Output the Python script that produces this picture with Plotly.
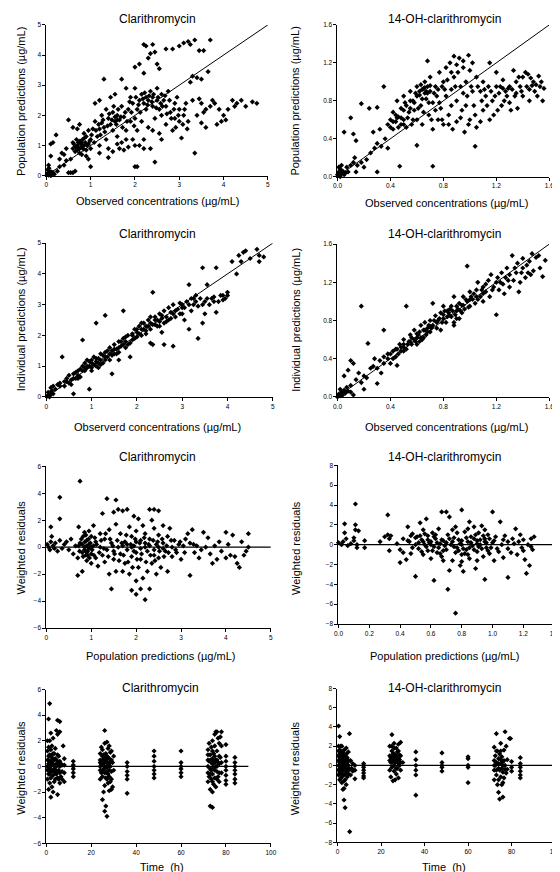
import plotly.graph_objects as go

# ---------------- DATA ----------------
# Panel 1: Clarithromycin, observed vs population predictions (ug/mL)
clar_obs_pred = [
(0.02,0.05),(0.04,0.1),(0.05,0.02),(0.07,0.15),(0.08,0.08),(0.1,0.05),(0.12,0.12),(0.03,0.2),(0.06,0.25),(0.15,0.1),(0.1,0.0),(0.18,0.05),(0.05,0.35),
(0.1,0.65),(0.1,1.05),(0.15,1.1),(0.22,1.35),(0.3,0.55),(0.35,0.75),(0.4,0.35),(0.45,0.9),(0.5,1.85),(0.55,0.55),(0.5,0.1),(0.55,0.1),(0.6,0.1),(0.65,0.15),(0.6,1.1),(0.65,0.8),(0.7,1.55),(0.75,1.7),(0.6,1.6),
(0.65,0.95),(0.7,1.0),(0.72,1.1),(0.75,0.9),(0.78,1.05),(0.8,0.95),(0.68,1.2),(0.82,1.2),(0.85,1.0),(0.9,0.85),(0.88,1.1),(0.75,0.75),(0.8,0.7),(0.9,1.3),(0.95,1.5),(0.7,0.85),(0.95,1.05),(1.0,0.9),(1.0,1.2),(0.85,1.4),(0.9,0.65),(1.0,0.3),(0.95,0.55),
(1.05,1.55),(1.1,1.8),(1.1,2.4),(1.15,1.3),(1.2,1.0),(1.2,2.5),(1.25,2.0),(1.3,1.6),(1.3,3.2),(1.35,1.2),(1.35,2.2),(1.4,0.9),(1.4,1.9),(1.45,2.6),(1.5,1.5),(1.5,2.1),(1.5,0.8),(1.55,1.8),(1.55,2.7),(1.6,1.3),(1.6,2.0),(1.65,0.9),(1.65,1.85),(1.7,2.3),(1.7,3.2),(1.7,1.1),(1.75,1.95),(1.75,0.85),(1.8,2.9),(1.8,1.5),(1.85,2.2),(1.85,0.95),(1.9,1.8),(1.9,2.6),(1.95,1.2),(1.95,2.4),(2.0,0.3),(2.05,0.3),(2.0,2.9),(2.0,1.9),(2.05,2.2),(2.05,1.5),(2.1,2.5),(2.1,1.0),
(1.55,1.95),(1.6,1.85),(1.45,1.7),(1.2,1.55),(1.25,1.75),
(2.15,2.7),(2.15,1.8),(2.2,2.4),(2.2,0.9),(2.25,2.6),(2.25,2.2),(2.3,2.5),(2.3,1.6),(2.35,2.8),(2.35,0.9),(2.4,2.3),(2.4,2.6),(2.45,1.9),(2.45,0.45),(2.5,2.5),(2.5,2.9),(2.55,2.2),(2.55,1.4),(2.6,2.7),(2.6,2.0),(2.65,2.5),(2.7,1.7),(2.7,2.3),(2.75,2.8),(2.8,2.1),(2.85,1.5),(2.9,2.4),(2.9,1.9),(2.95,2.6),(3.0,1.8),(3.0,2.2),(3.05,1.25),(3.1,2.0),(3.15,2.4),(3.2,1.8),(3.25,3.1),(3.3,3.3),
(2.0,3.6),(2.1,3.7),(2.2,4.35),(2.25,4.3),(2.2,3.4),(2.3,3.9),(2.35,4.05),(2.4,4.35),(2.45,4.1),(2.5,3.7),(2.55,3.55),(2.7,4.2),(2.85,4.2),(3.0,4.3),(3.1,4.4),(3.2,4.45),(3.35,4.5),(3.7,4.5),(3.25,4.35),(3.45,4.15),(3.55,4.15),(3.4,3.25),(3.5,3.2),(3.65,3.45),
(3.45,2.55),(3.5,2.4),(3.6,2.2),(3.7,2.3),(3.8,2.4),(3.75,2.5),(3.4,2.0),(3.5,1.75),(3.6,1.6),(3.9,2.2),(4.0,2.0),(4.05,1.85),(4.2,2.5),(4.3,2.4),(4.25,2.3),(4.4,2.5),(4.5,2.3),(4.65,2.45),(4.75,2.4),(4.1,2.2),(3.85,1.7),(3.95,1.8),(3.35,0.75),(3.55,2.1),(3.3,2.5),
(0.6,0.9),(0.62,1.05),(0.72,0.92),(0.76,1.15),(0.8,1.1),(0.84,0.88),(0.86,1.25),(0.92,1.0),(0.98,1.15),(1.02,1.35),(1.08,1.1),(1.12,1.5),(1.18,1.7),(1.22,1.35),(1.28,1.85),(1.32,1.45),(1.38,1.65),(1.42,2.05),(1.48,1.85),(1.52,2.3),(1.58,1.7),(1.62,2.2),(1.68,1.95),(1.72,1.6),(1.78,2.1),(1.82,1.8),(1.88,2.45),(1.92,2.1),(1.98,1.65),(2.02,2.6),(2.08,2.35),(2.12,2.1),(2.18,2.55),(2.22,2.75),(2.28,2.35),(2.32,2.65),(2.38,2.45),(2.42,2.7),(2.48,2.25),(2.52,2.6),(2.58,2.4),(2.62,2.3),(2.68,2.65),(2.72,2.05),(2.78,2.5),(2.82,1.9),(2.88,2.2),(2.92,1.6),(2.98,2.0),(3.08,1.7),(3.12,2.2),(3.18,1.55),(2.2,1.2),(2.4,1.5),(2.6,1.2),(1.4,0.6),(1.2,0.75),(1.6,1.05),(1.8,1.2),(2.0,1.0),(0.45,0.5),(0.3,0.3),(0.25,0.15),(0.4,0.7),
]

# Panel 2: 14-OH-clarithromycin, observed vs population predictions
oh_obs_pred = [
(0.0,0.02),(0.01,0.05),(0.02,0.0),(0.02,0.08),(0.03,0.03),(0.04,0.06),(0.05,0.02),(0.01,0.1),(0.06,0.04),(0.03,0.12),(0.08,0.05),(0.07,0.1),
(0.1,0.12),(0.12,0.15),(0.15,0.12),(0.18,0.15),(0.2,0.1),(0.14,0.05),(0.22,0.18),(0.25,0.25),(0.28,0.3),(0.3,0.05),(0.13,0.2),(0.1,0.62),(0.05,0.47),(0.12,0.45),(0.14,0.38),(0.18,0.77),(0.24,0.72),(0.3,0.73),(0.35,0.95),(0.27,0.47),(0.3,0.35),(0.33,0.32),(0.36,0.4),(0.32,0.5),(0.47,0.11),(0.72,0.11),(1.04,0.32),(0.6,0.33),(0.38,0.3),
(0.38,0.55),(0.4,0.6),(0.42,0.5),(0.42,0.68),(0.44,0.58),(0.45,0.8),(0.46,0.63),(0.48,0.55),(0.48,0.72),(0.5,0.85),(0.5,0.6),(0.52,0.52),(0.52,0.75),(0.54,0.68),(0.55,0.9),(0.56,0.55),(0.57,0.8),(0.58,0.7),(0.6,0.95),(0.6,0.6),(0.6,0.85),(0.62,0.9),(0.63,0.75),(0.64,0.55),(0.65,0.93),(0.66,0.88),(0.66,1.0),(0.67,0.82),(0.68,0.95),(0.68,1.22),(0.69,0.65),(0.7,0.9),(0.7,1.05),(0.72,0.78),(0.72,0.5),(0.74,0.95),(0.75,0.85),(0.76,0.6),(0.77,1.1),
(0.62,0.86),(0.64,0.92),(0.66,0.94),(0.68,0.88),(0.58,0.78),(0.55,0.72),(0.5,0.7),(0.45,0.62),
(0.78,0.72),(0.79,0.95),(0.8,1.0),(0.8,0.55),(0.82,0.85),(0.82,1.15),(0.84,0.65),(0.85,1.2),(0.86,0.92),(0.87,0.5),(0.88,1.05),(0.88,1.27),(0.9,0.8),(0.9,0.58),(0.92,1.25),(0.93,0.95),(0.94,0.7),(0.95,1.15),(0.96,0.47),(0.97,1.0),(0.98,0.85),(0.99,1.28),(1.0,0.6),(1.01,0.95),(1.02,1.2),(1.03,0.75),(1.05,1.05),(1.05,0.52),
(1.08,0.9),(1.1,1.0),(1.1,0.7),(1.12,0.85),(1.14,0.95),(1.15,1.2),(1.17,0.8),(1.18,0.65),(1.2,1.1),(1.2,0.95),(1.22,0.88),(1.24,0.75),(1.25,0.93),(1.27,0.9),(1.28,0.85),(1.3,0.95),(1.3,0.78),(1.32,0.92),(1.33,1.12),(1.35,0.88),(1.36,0.72),(1.37,1.05),(1.38,0.95),(1.4,0.85),(1.4,1.05),(1.42,1.1),(1.44,1.08),(1.45,0.92),(1.47,0.96),(1.48,1.0),(1.5,0.97),(1.52,1.06),(1.53,0.95),(1.55,0.8),(1.56,0.93),(1.45,0.8),(1.35,1.0),(1.25,1.02),(1.15,0.6),(1.08,0.58),
(0.4,0.52),(0.42,0.58),(0.44,0.65),(0.46,0.52),(0.48,0.62),(0.5,0.55),(0.51,0.78),(0.53,0.62),(0.55,0.8),(0.57,0.6),(0.59,0.88),(0.61,0.72),(0.63,0.97),(0.64,0.82),(0.65,0.68),(0.67,0.9),(0.69,0.78),(0.7,0.96),(0.71,0.6),(0.73,0.88),(0.74,0.7),(0.76,0.92),(0.77,0.78),(0.79,0.6),(0.81,0.92),(0.83,1.02),(0.84,0.55),(0.86,0.75),(0.89,0.95),(0.91,1.1),(0.93,0.62),(0.95,0.88),(0.97,0.75),(0.99,0.55),(1.0,1.12),(1.02,0.9),(1.04,0.65),(1.06,0.95),(1.09,0.8),(1.11,0.92),(1.13,0.75),(1.16,0.9),(1.19,0.85),(1.21,0.7),(1.23,0.95),(1.26,0.8),(1.29,0.93),(1.31,0.7),(1.34,0.85),(1.39,0.9),(1.43,0.95),(1.46,1.04),(1.49,0.9),(1.51,0.85),(1.54,1.0),(0.9,1.18),(0.95,1.22),(0.86,1.1),
]

# Panel 3: Clarithromycin, observed vs individual predictions
clar_obs_ipred = [
(0.02,0.02),(0.05,0.08),(0.08,0.05),(0.1,0.15),(0.12,0.2),(0.04,0.15),(0.15,0.1),(0.1,0.3),(0.07,0.0),(0.15,0.35),(0.2,0.25),(0.25,0.4),
(0.3,0.35),(0.35,1.3),(0.4,0.5),(0.45,0.6),(0.5,0.45),(0.5,0.7),(0.55,0.55),(0.6,0.1),(0.6,0.75),(0.65,0.6),(0.7,0.85),(0.7,0.7),(0.75,0.9),(0.75,0.65),(0.8,1.85),(0.8,1.0),(0.85,0.85),(0.85,1.1),(0.9,0.95),(0.9,1.2),(0.95,0.25),(0.95,1.0),(1.0,1.1),(1.0,0.85),(1.05,1.3),(1.05,1.05),(1.1,2.4),(1.1,1.15),(1.15,1.25),(1.15,0.95),(1.2,1.4),(1.2,1.2),(1.25,1.1),(1.3,2.65),(1.3,1.45),(1.35,1.3),(1.4,1.6),(1.4,1.2),(1.45,0.75),(1.45,1.5),(1.5,1.4),(1.5,1.7),(1.55,1.55),(1.6,1.8),(1.6,1.45),(1.65,1.65),(1.7,1.9),(1.7,2.8),(1.75,1.6),(1.75,1.8),(1.8,2.0),(1.85,1.75),(1.85,1.3),(1.9,2.05),(1.9,1.85),(1.95,2.2),(2.0,1.95),(2.0,2.1),(2.05,2.3),(2.1,2.0),(2.1,2.2),(2.15,2.4),(2.2,2.15),(2.2,2.3),(2.25,2.5),(2.3,2.2),(2.3,2.4),(2.35,1.7),(2.35,3.4),(2.4,2.6),(2.4,2.35),(2.45,2.5),(2.5,2.3),(2.5,2.7),(2.55,2.55),(2.6,1.7),(2.6,2.8),(2.65,2.6),(2.7,2.9),(2.7,2.5),(2.75,2.75),(2.8,1.65),(2.8,3.0),(2.85,2.6),(2.9,2.85),(2.95,3.05),(3.0,2.7),(3.0,2.9),(3.05,2.5),(3.1,3.1),(3.15,3.65),(3.15,2.2),(3.2,3.2),(3.25,3.0),(3.3,3.3),(3.35,1.9),(3.35,2.95),(3.4,3.2),(3.45,4.2),(3.45,2.4),(3.5,3.1),(3.5,2.7),(3.55,3.65),(3.6,3.0),(3.65,3.2),(3.7,3.25),(3.75,4.2),(3.75,2.75),(3.8,3.1),(3.85,3.3),(3.9,3.3),(3.95,3.2),(4.0,3.4),(4.0,3.3),(4.1,4.4),(4.2,4.0),(4.25,4.6),(4.3,4.4),(4.35,4.7),(4.4,4.75),(4.5,4.5),(4.65,4.8),(4.7,4.6),(4.7,4.4),(4.8,4.55),(2.3,1.75),(2.55,2.1),(1.6,1.2),(0.55,0.4),
(1.0,1.2),(1.2,1.05),(1.4,1.4),(1.6,1.6),(1.9,2.0),(2.1,2.4),(2.3,2.6),(2.4,2.5),(2.6,2.4),(2.8,2.7),(3.0,3.0),(3.2,2.8),(3.3,3.1),(0.9,1.0),(1.1,1.25),(1.3,1.2),(1.7,1.7),(2.0,2.2),(2.2,2.05),(2.5,2.45),
(0.3,0.45),(0.4,0.35),(0.45,0.5),(0.6,0.6),(0.65,0.8),(0.7,0.6),(0.8,0.85),(0.85,0.95),(0.95,1.15),(1.0,0.95),(1.1,1.0),(1.15,1.1),(1.25,1.35),(1.3,1.3),(1.35,1.5),(1.45,1.35),(1.5,1.55),(1.55,1.4),(1.65,1.8),(1.75,1.95),(1.8,1.7),(1.95,1.9),(2.05,2.05),(2.15,2.2),(2.25,2.3),(2.35,2.35),(2.45,2.3),(2.55,2.65),(2.65,2.45),(2.75,2.55),(2.85,2.8),(2.95,2.7),(3.05,2.9),(3.15,3.0),(3.25,3.2),(3.45,3.0),(3.55,3.2),(3.7,3.1),(3.9,3.15),
]

# Panel 4: 14-OH-clarithromycin, observed vs individual predictions
oh_obs_ipred = [
(0.0,0.0),(0.01,0.03),(0.02,0.01),(0.03,0.05),(0.04,0.02),(0.05,0.07),(0.06,0.04),(0.02,0.08),(0.07,0.1),(0.08,0.06),(0.1,0.05),(0.12,0.02),
(0.05,0.22),(0.08,0.28),(0.1,0.38),(0.12,0.35),(0.1,0.12),(0.14,0.18),(0.16,0.25),(0.18,0.15),(0.2,0.08),(0.2,0.22),(0.22,0.2),(0.23,0.56),(0.18,0.95),(0.25,0.3),(0.27,0.32),(0.28,0.4),(0.3,0.14),(0.3,0.3),(0.33,0.25),(0.32,0.38),(0.35,0.7),(0.35,0.42),(0.38,0.4),(0.4,0.35),(0.4,0.45),(0.42,0.48),(0.44,0.42),(0.45,0.33),(0.45,0.5),(0.47,0.55),(0.48,0.48),(0.5,0.6),(0.5,0.52),(0.52,0.95),(0.52,0.5),(0.54,0.58),(0.55,0.65),(0.56,0.55),(0.58,0.6),(0.58,0.7),(0.6,0.62),(0.6,0.55),(0.62,0.68),(0.63,0.75),(0.64,0.6),(0.65,0.7),(0.66,0.78),(0.67,0.65),(0.68,0.72),(0.7,0.8),(0.7,0.68),(0.72,0.75),(0.72,0.98),(0.74,0.85),(0.75,0.72),(0.76,0.8),(0.78,0.88),(0.8,0.82),(0.8,0.95),(0.82,0.78),(0.83,0.9),(0.85,0.85),(0.86,0.95),(0.88,0.78),(0.88,0.75),(0.88,1.05),(0.9,0.9),(0.9,0.82),(0.92,0.98),(0.94,0.88),(0.95,1.05),(0.96,0.92),(0.98,1.37),(0.98,1.0),(1.0,0.95),(1.0,1.1),(1.02,1.02),(1.04,0.98),(1.05,1.12),(1.06,1.2),(1.08,1.05),(1.1,1.15),(1.1,1.0),(1.12,1.1),(1.14,1.22),(1.15,1.05),(1.16,1.28),(1.18,1.15),(1.2,0.86),(1.2,1.2),(1.22,1.12),(1.24,1.3),(1.25,1.18),(1.27,1.25),(1.28,1.35),(1.3,1.28),(1.3,1.15),(1.32,1.48),(1.33,1.22),(1.35,1.3),(1.36,1.4),(1.38,1.2),(1.4,1.45),(1.4,1.35),(1.42,1.25),(1.44,1.3),(1.45,1.42),(1.47,1.5),(1.48,1.32),(1.5,1.46),(1.52,1.48),(1.53,1.35),(1.55,1.26),(1.57,1.43),(1.37,1.1),(1.26,1.08),(0.92,0.82),(0.78,0.7),(0.62,0.58),(0.46,0.45),
(0.55,0.58),(0.6,0.66),(0.65,0.62),(0.68,0.68),(0.7,0.74),(0.75,0.78),(0.8,0.86),(0.84,0.88),(0.86,0.84),(0.9,0.95),(0.94,0.96),(1.0,1.02),(1.05,1.05),(1.1,1.08),(0.5,0.55),
(0.35,0.35),(0.38,0.45),(0.42,0.4),(0.44,0.5),(0.48,0.52),(0.5,0.48),(0.53,0.55),(0.56,0.62),(0.59,0.58),(0.61,0.65),(0.63,0.62),(0.66,0.7),(0.69,0.75),(0.71,0.72),(0.73,0.8),(0.77,0.82),(0.79,0.78),(0.81,0.9),(0.83,0.84),(0.85,0.92),(0.87,0.9),(0.89,0.86),(0.91,0.92),(0.93,0.9),(0.95,0.96),(0.97,1.02),(0.99,0.94),(1.01,1.05),(1.03,1.08),(1.06,1.02),(1.09,1.12),(1.12,1.18),(1.17,1.12),(1.21,1.25),(1.23,1.2),(1.29,1.22),(1.34,1.35),(1.39,1.3),(1.43,1.38),(1.46,1.28),
]

# Panel 5: Clarithromycin, population predictions vs weighted residuals
clar_pred_wres = [
(0.02,0.2),(0.05,0.0),(0.08,-0.2),(0.1,0.4),(0.1,1.5),(0.12,0.8),(0.15,0.1),(0.18,-0.1),(0.2,0.3),(0.25,-0.3),(0.3,3.7),(0.3,2.1),(0.3,0.5),(0.35,-0.1),(0.4,0.2),(0.45,0.4),(0.5,-0.2),(0.55,0.6),(0.6,-0.5),(0.65,0.1),(0.7,-2.1),(0.7,-0.8),(0.72,1.5),(0.75,4.9),(0.75,0.3),(0.8,-1.8),(0.8,-0.4),(0.82,0.8),(0.85,0.0),(0.85,1.1),(0.88,-0.6),(0.9,0.5),(0.9,-1.0),(0.92,-0.3),(0.95,1.2),(0.95,0.2),(1.0,-0.5),(1.0,0.8),(1.0,-1.2),(1.05,0.1),(1.05,1.6),(1.1,-0.8),(1.1,0.4),(1.15,-1.4),(1.2,0.0),(1.2,1.0),(1.25,2.5),(1.25,-0.6),(1.3,0.6),(1.3,-1.1),(1.35,3.6),(1.35,-0.2),(1.4,1.3),(1.4,-2.0),(1.45,-3.1),(1.45,0.3),(1.5,2.6),(1.5,-0.9),(1.55,3.5),(1.55,1.7),(1.55,-1.8),(1.6,0.0),(1.6,2.8),(1.65,-0.5),(1.65,1.0),(1.7,-1.8),(1.7,2.7),(1.75,0.4),(1.75,-1.2),(1.8,2.8),(1.8,-0.2),(1.85,1.5),(1.85,-2.0),(1.9,-3.2),(1.9,0.8),(1.9,-0.7),(1.95,2.3),(1.95,0.1),(2.0,-3.5),(2.0,-2.5),(2.0,1.2),(2.0,-0.4),(2.05,2.1),(2.05,-1.5),(2.1,-3.1),(2.1,0.5),(2.1,-0.9),(2.15,1.6),(2.15,-2.3),(2.2,-3.9),(2.2,0.0),(2.2,1.0),(2.25,-1.8),(2.25,-0.3),(2.3,2.8),(2.3,-3.1),(2.3,0.6),(2.35,2.0),(2.35,-1.2),(2.4,2.8),(2.4,-0.6),(2.4,1.4),(2.45,0.2),(2.45,-2.0),(2.5,2.7),(2.5,-0.8),(2.5,0.9),(2.55,-1.5),(2.6,0.3),(2.6,1.6),(2.65,-0.3),(2.7,0.8),(2.7,-1.8),(2.75,1.4),(2.8,0.0),(2.8,-0.7),(2.85,0.5),(2.9,-0.4),(2.95,0.2),(3.0,-0.9),(3.05,0.1),(3.1,0.6),(3.15,1.0),(3.2,-2.1),(3.2,0.3),(3.25,1.3),(3.3,-0.4),(3.35,0.1),(3.4,-0.8),(3.5,1.1),(3.55,0.0),(3.6,0.7),(3.65,-0.5),(3.7,-1.2),(3.75,0.1),(3.8,-0.9),(3.85,0.4),(3.9,-0.3),(4.0,1.1),(4.0,-0.8),(4.05,0.2),(4.1,-0.6),(4.15,0.9),(4.2,-0.7),(4.25,-1.2),(4.3,-1.5),(4.35,0.4),(4.4,-0.6),(4.45,-0.3),(4.5,1.0),(4.5,0.0),
(0.85,-0.2),(0.95,-0.1),(1.8,0.2),(1.9,0.0),(2.1,-0.1),(2.3,0.1),(2.4,-0.2),(2.5,0.0),(2.6,-0.1),(1.95,-0.3),(2.2,0.3),(0.9,0.1),(1.0,0.0),(0.8,0.2),(0.92,-0.6),(1.7,0.1),(1.5,-0.3),(2.0,0.4),
(0.72,0.1),(0.74,-0.3),(0.78,0.6),(0.82,-0.7),(0.86,0.4),(0.88,0.9),(0.9,-0.4),(0.94,0.6),(0.96,-0.8),(0.98,0.3),(1.02,-0.2),(1.06,-0.6),(1.08,0.7),(1.12,0.2),(1.18,-0.4),(1.22,0.5),(1.28,-0.1),(1.32,1.0),(1.38,-0.7),(1.42,0.6),(1.48,0.1),(1.52,-0.5),(1.58,0.5),(1.62,-1.0),(1.68,0.3),(1.72,-0.6),(1.78,0.9),(1.82,-1.1),(1.88,0.2),(1.92,-1.5),(1.98,0.6),(2.02,-0.9),(2.08,0.3),(2.12,-0.5),(2.18,0.7),(2.22,-1.1),(2.28,0.2),(2.32,-0.6),(2.38,0.5),(2.42,-1.0),(2.48,0.4),(2.52,-0.3),(2.58,0.6),(2.62,-0.7),(2.68,0.1),(2.72,-0.4),(2.78,0.5),(2.88,-0.2),(2.98,0.4),(3.08,-0.4),(3.28,0.2),(3.45,-0.2),
]

# Panel 6: 14-OH-clarithromycin, population predictions vs weighted residuals
oh_pred_wres = [
(0.0,0.2),(0.02,0.0),(0.03,0.3),(0.04,2.1),(0.04,1.2),(0.05,0.6),(0.06,-0.1),(0.08,0.1),(0.1,0.7),(0.1,0.4),(0.11,4.1),(0.11,2.0),(0.11,1.5),(0.12,0.0),(0.12,-0.3),(0.13,1.4),(0.17,0.4),(0.17,-0.3),(0.27,0.3),(0.3,0.8),(0.32,3.0),(0.32,1.0),(0.33,-0.6),(0.33,0.6),(0.34,0.9),
(0.38,0.1),(0.4,-0.5),(0.4,-1.8),(0.42,0.6),(0.44,-1.5),(0.45,1.8),(0.46,0.3),(0.47,-0.9),(0.48,1.1),(0.5,-3.2),(0.5,0.0),(0.51,0.8),(0.52,-0.4),(0.53,2.2),(0.54,0.5),(0.55,-1.0),(0.55,1.5),(0.56,0.0),(0.57,2.6),(0.58,-0.6),(0.58,0.9),(0.6,0.3),(0.6,-1.4),(0.61,1.2),(0.62,-3.6),(0.62,-0.2),(0.63,0.6),(0.64,-0.8),(0.65,1.6),(0.66,0.1),(0.67,3.3),(0.67,-1.2),(0.68,0.4),(0.7,3.3),(0.7,-0.5),(0.71,-4.5),(0.71,1.0),(0.72,-2.6),(0.72,2.8),(0.73,0.0),(0.74,-1.6),(0.75,0.7),(0.76,-6.9),(0.76,1.8),(0.77,-0.3),(0.78,0.5),(0.79,-2.1),(0.8,3.5),(0.8,0.0),(0.8,-1.0),(0.81,-2.7),(0.82,1.3),(0.83,-0.5),(0.84,0.3),(0.85,2.3),(0.85,-1.4),(0.86,0.8),(0.87,-0.1),(0.88,1.8),(0.89,-2.4),(0.9,0.4),(0.9,-0.7),(0.91,1.2),(0.92,0.0),(0.93,1.9),(0.94,-1.2),(0.95,-3.5),(0.95,0.6),(0.96,-0.3),(0.97,1.0),(0.98,-0.9),(1.0,3.3),(1.0,0.2),(1.01,-1.6),(1.02,0.8),(1.03,-0.4),(1.05,2.3),(1.06,0.0),(1.07,-1.3),(1.08,0.9),(1.1,-3.3),(1.1,0.3),(1.12,-0.8),(1.14,0.1),(1.15,1.6),(1.16,-1.0),(1.18,1.0),(1.19,-0.3),(1.2,0.5),(1.21,-1.5),(1.22,-2.9),(1.23,0.0),(1.24,-2.1),(1.25,0.6),(1.26,-0.5),(1.27,0.8),
(0.55,0.3),(0.6,0.0),(0.65,-0.3),(0.7,0.2),(0.75,-0.2),(0.8,0.4),(0.85,-0.3),(0.9,0.1),(0.95,0.3),(0.58,0.5),(0.68,-0.6),(0.78,-0.6),(0.88,0.6),(0.93,-0.4),(0.53,0.9),(0.63,1.0),(0.82,-0.9),(0.97,-0.6),
(0.45,0.4),(0.48,-0.3),(0.5,0.7),(0.52,0.2),(0.54,-0.7),(0.56,1.1),(0.57,-0.2),(0.59,0.2),(0.61,-0.6),(0.62,0.8),(0.64,0.2),(0.66,-0.9),(0.67,0.5),(0.69,-0.1),(0.72,0.6),(0.74,0.3),(0.76,-0.8),(0.77,1.2),(0.79,0.1),(0.81,-0.4),(0.83,0.7),(0.84,-1.0),(0.86,0.2),(0.88,-0.5),(0.89,1.0),(0.91,-0.2),(0.92,0.5),(0.94,0.9),(0.96,0.2),(0.98,0.6),(0.99,-0.3),(1.01,0.4),(1.04,-0.7),(1.07,0.5),(1.1,-0.4),(1.13,0.6),(1.17,0.3),(1.2,-0.6),(1.25,-0.2),(0.42,-0.8),(0.47,0.9),(0.74,1.5),(0.84,1.6),(0.95,1.5),(0.9,-1.6),(0.8,-1.7),(0.68,-1.6),
]

# Panel 7: Clarithromycin, time (h) vs weighted residuals
clar_time_wres = [
(0.5,0.5),(0.5,-0.3),(0.5,1.2),(0.5,2.0),(0.5,-1.0),(1,3.7),(1,0.2),(1,-0.6),(1,1.5),(1,-1.8),(1,0.8),(1.5,4.9),(1.5,-0.2),(1.5,0.9),(1.5,-1.3),(1.5,2.0),(2,2.6),(2,0.4),(2,-0.9),(2,-2.4),(2,1.3),(2,0.0),(2.5,-0.4),(2.5,0.7),(2.5,1.6),(2.5,-1.6),(3,0.2),(3,-2.0),(3,1.0),(3,-0.7),(3,2.2),(3.5,0.5),(3.5,-0.2),(3.5,-1.2),(4,-0.5),(4,0.6),(4,1.4),(4,-1.0),(4.5,2.8),(4.5,0.0),(4.5,-0.6),(5,3.6),(5,-2.2),(5,0.3),(5,-0.9),(5,2.5),(5.5,-0.3),(5.5,0.8),(5.5,-1.0),(6,3.5),(6,0.0),(6,-0.5),(6,-1.3),(6,2.7),(6.5,-0.8),(6.5,0.2),(7,-0.4),(7,-1.0),(7.5,1.6),(8,0.6),(8,-1.2),(8,-0.5),(8,0.1),
(0.5,0.0),(1,-0.2),(1,0.5),(1.5,0.3),(1.5,-0.6),(2,0.8),(2,-0.4),(2.5,0.2),(3,-0.3),(3,0.5),(3.5,1.0),(4,0.1),(4,-0.3),(4.5,0.5),(5,-0.4),(5,0.9),(5.5,0.2),(6,-0.9),(6,0.4),(7,0.1),
(12,0.4),(12,0.1),(12,-0.2),(12,-0.5),(12,-0.8),(12,0.0),
(24,0.5),(24,-0.3),(24,1.0),(24,-1.0),(24,0.0),(24.5,1.5),(24.5,-0.5),(25,-2.6),(25,0.8),(25,0.2),(25,-0.8),(25,1.3),(25.5,-2.0),(25.5,0.4),(25.5,-0.2),(26,2.8),(26,-3.5),(26,1.8),(26,0.0),(26,-1.5),(26,0.6),(26.5,-3.1),(26.5,1.0),(26.5,-0.4),(27,-3.9),(27,1.9),(27,0.3),(27,-1.0),(27,-0.1),(27.5,1.4),(27.5,-0.6),(27.5,0.7),(28,-1.9),(28,1.6),(28,0.2),(28,-0.8),(28.5,1.1),(28.5,-1.2),(28.5,0.0),(29,-1.8),(29,0.5),(29,1.2),(29.5,-1.6),(29.5,0.3),(30,-0.3),(30,0.8),
(24.5,0.2),(25,-0.3),(25.5,0.9),(26,0.3),(26,-0.5),(26.5,0.5),(26.5,-0.9),(27,0.8),(27,-0.5),(27.5,0.1),(27.5,-1.3),(28,0.6),(28,-0.3),(28.5,0.4),(29,-0.4),(29,-1.0),(25,0.5),(24,0.3),
(36,0.3),(36,0.0),(36,-0.4),(36,-0.7),(36,-1.0),(36,-2.1),
(48,1.2),(48,0.8),(48,0.4),(48,0.0),(48,-0.3),(48,-0.6),(48,-0.9),
(60,1.2),(60,0.3),(60,0.0),(60,-0.2),(60,-0.5),(60,-0.8),
(72,0.5),(72,-0.5),(72,1.3),(72,-1.2),(72,0.0),(72.5,1.8),(72.5,-0.8),(73,-3.1),(73,0.9),(73,-0.2),(73,-1.8),(73.5,1.5),(73.5,0.3),(73.5,-1.0),(74,-3.2),(74,2.0),(74,0.6),(74,-0.6),(74,-2.0),(74.5,1.0),(74.5,-0.1),(74.5,-1.4),(75,2.5),(75,0.3),(75,-0.9),(75,1.6),(75.5,2.7),(75.5,0.0),(75.5,-1.6),(76,2.7),(76,1.2),(76,-0.4),(76,0.5),(76.5,2.2),(76.5,-0.8),(77,1.8),(77,0.2),(77,-1.2),(77.5,2.3),(77.5,0.7),(78,2.7),(78,1.6),(78,-0.5),(78,0.3),
(72.5,0.4),(73,0.5),(73,-0.6),(73.5,-0.3),(74,0.2),(74,1.2),(74.5,0.4),(75,-0.3),(75,0.8),(75.5,0.5),(76,-1.0),(76,0.0),(76.5,0.3),(77,-0.5),(77,0.8),(72,0.9),(74,-1.2),
(80,0.8),(80,0.4),(80,0.0),(80,-0.3),(80,-0.7),(80,-1.1),(80,-1.4),(80,1.7),
(84,0.7),(84,0.3),(84,0.0),(84,-0.3),(84,-0.6),(84,-1.0),(84,-1.3),
]

# Panel 8: 14-OH-clarithromycin, time (h) vs weighted residuals
oh_time_wres = [
(0.5,4.1),(1,3.0),(1.5,2.0),(0.5,1.5),(0.5,0.5),(0.5,-0.5),(1,0.8),(1,-0.3),(1,1.2),(1.5,-0.8),(1.5,0.3),(2,1.0),(2,-0.2),(2,-1.2),(2,2.0),(2,0.5),(2.5,-2.5),(2.5,0.0),(2.5,1.3),(2.5,-0.9),(3,-3.6),(3,-2.4),(3,0.6),(3,-0.4),(3,1.6),(3.5,-4.4),(3.5,-1.5),(3.5,0.2),(3.5,1.0),(4,-2.0),(4,-0.6),(4,0.8),(4,1.8),(4.5,-1.2),(4.5,0.3),(5,-0.9),(5,0.0),(5,1.4),(5.5,3.3),(5.5,-0.4),(5.6,-6.9),(6,0.5),(6,-1.0),(6.5,-0.3),(7,-0.6),(7,0.2),(8,-1.4),(8,-0.5),(8,0.0),
(1.5,-0.2),(2,0.2),(2.5,0.6),(3,0.0),(3.5,-0.5),(4,0.1),(1,0.3),(4.5,-0.3),
(0.5,0.0),(0.5,1.0),(0.5,-1.0),(1,0.0),(1,-0.8),(1,1.6),(1.5,0.8),(1.5,1.3),(1.5,-1.3),(2,-0.6),(2,1.4),(2.5,0.3),(2.5,-0.4),(2.5,0.9),(3,0.3),(3,1.0),(3,-1.0),(3.5,0.6),(3.5,-0.9),(4,0.4),(4,-0.2),(4,1.2),(4.5,0.8),(4.5,-0.7),(5,0.5),(5,-0.5),(0.5,2.0),(1,-1.5),(2,-1.8),(3,-1.6),
(12,0.2),(12,-0.2),(12,-0.5),(12,-0.8),(12,-1.1),(12,-1.3),(12,0.0),
(24,0.5),(24,2.0),(24,-0.5),(24,1.0),(24.5,-1.2),(24.5,0.3),(25,3.2),(25,1.5),(25,-0.2),(25,0.8),(25.5,-1.6),(25.5,0.6),(26,2.3),(26,1.2),(26,-0.6),(26,0.0),(26.5,-1.5),(26.5,0.9),(27,1.8),(27,0.4),(27,-0.9),(27.5,1.4),(27.5,-0.3),(28,2.2),(28,0.7),(28,-1.3),(28.5,1.1),(28.5,0.0),(29,2.4),(29,-0.5),(29,1.0),(30,0.3),
(24.5,0.8),(25,0.3),(25.5,1.2),(26,0.6),(26.5,0.3),(27,1.0),(27,-0.3),(27.5,0.6),(28,0.2),(28.5,0.6),(29,0.3),(26,1.8),(25,2.0),(28,1.5),
(36,1.4),(36,0.6),(36,0.0),(36,-0.5),(36,-1.0),(36,-3.1),
(48,1.3),(48,0.3),(48,-0.2),(48,-0.6),(48,0.0),
(60,0.9),(60,0.7),(60,0.0),(60,-0.2),(60,-1.8),
(72,1.9),(72,0.5),(72,-0.5),(72,-1.5),(72.5,1.0),(72.5,0.0),(73,3.3),(73,-1.0),(73,0.3),(73.5,-2.0),(73.5,1.5),(74,-2.8),(74,0.7),(74,-0.3),(74.5,-3.5),(74.5,1.2),(75,-1.2),(75,0.2),(75,2.3),(75.5,-2.0),(75.5,0.9),(76,-3.3),(76,0.4),(76,-0.7),(76.5,1.6),(76.5,-1.3),(77,3.5),(77,0.0),(77.5,2.0),(77.5,-0.8),(78,0.6),(78,-0.4),(79,2.8),(79.5,2.8),(80,0.4),(80,-0.2),(80,-0.6),
(72,0.0),(73,-0.5),(73.5,0.2),(74,0.2),(74.5,-0.5),(75,0.6),(75.5,-0.3),(76,0.0),(76.5,0.5),(77,-0.4),(73,1.5),(75,1.5),(76,-1.8),(74,-1.5),
(84,0.8),(84,0.2),(84,-0.2),(84,-0.6),(84,-1.0),(84,-1.3),
]

# Reference lines (data-space endpoints)
clar_identity = [0, 5]
oh_identity = [0, 1.6]
clar_pred_zero_x = [0, 5]
oh_pred_zero_x = [0, 1.4]
clar_time_zero_x = [0, 90]
oh_time_zero_x = [0, 100]

titles = ["Clarithromycin", "14-OH-clarithromycin"] * 4
x_titles = ["Observed concentrations (µg/mL)", "Observed concentrations (µg/mL)",
            "Observerd concentrations (µg/mL)", "Observed concentrations (µg/mL)",
            "Population predictions (µg/mL)", "Population predictions (µg/mL)",
            "Time  (h)", "Time  (h)"]
y_titles = ["Population predictions (µg/mL)", "Population predictions (µg/mL)",
            "Individual predictions (µg/mL)", "Individual predictions (µg/mL)",
            "Weighted residuals", "Weighted residuals",
            "Weighted residuals", "Weighted residuals"]

# ---------------- LAYOUT ----------------
W, H = 560, 872
FONT = "Liberation Sans, Arial, sans-serif"

# pixel boxes (left, right, top, bottom)
boxes = [
    (34, 260, 13, 165), (331, 547, 13, 166),
    (34, 265, 233, 388), (331, 547, 234, 388),
    (34, 263, 458, 621), (332, 552, 457, 617),
    (34, 263, 683, 838), (331, 553, 682, 837),
]
ranges = [
    ([0, 5], [0, 5], 1, 1, None, None),
    ([0, 1.6], [0, 1.6], 0.4, 0.4, ".1f", ".1f"),
    ([0, 5], [0, 5], 1, 1, None, None),
    ([0, 1.6], [0, 1.6], 0.4, 0.4, ".1f", ".1f"),
    ([0, 5], [-6, 6], 1, 2, None, None),
    ([0, 1.4], [-8, 8], 0.2, 2, ".1f", None),
    ([0, 100], [-6, 6], 20, 2, None, None),
    ([0, 100], [-8, 8], 20, 2, None, None),
]
datasets = [clar_obs_pred, oh_obs_pred, clar_obs_ipred, oh_obs_ipred,
            clar_pred_wres, oh_pred_wres, clar_time_wres, oh_time_wres]
lines = [
    (clar_identity, clar_identity), (oh_identity, oh_identity),
    (clar_identity, clar_identity), (oh_identity, oh_identity),
    (clar_pred_zero_x, [0, 0]), (oh_pred_zero_x, [0, 0]),
    (clar_time_zero_x, [0, 0]), (oh_time_zero_x, [0, 0]),
]
title_pos = [(147, 7), (440, 7), (147, 224), (440, 224), (147, 449), (440, 449), (150, 681), (440, 681)]
xtitle_pos = [(147, 191), (442, 193), (147, 418), (442, 418), (150, 649), (440, 649), (152, 862), (440, 862)]
ytitle_pos = [(8, 90), (288, 90), (8, 310), (288, 310), (8, 540), (288, 540), (8, 762), (288, 762)]

fig = go.Figure()
layout = dict(width=W, height=H, margin=dict(l=0, r=0, t=0, b=0),
              paper_bgcolor="white", plot_bgcolor="white", showlegend=False,
              font=dict(family=FONT, color="black"))
annotations = []

for i in range(8):
    n = "" if i == 0 else str(i + 1)
    xa, ya = "x" + n, "y" + n
    l, r, t, b = boxes[i]
    xr, yr, xd, yd, xf, yf = ranges[i]
    pts = datasets[i]
    fig.add_trace(go.Scatter(x=[p[0] for p in pts], y=[p[1] for p in pts], mode="markers",
                             marker=dict(symbol="diamond", size=4, color="black", line=dict(width=0)),
                             xaxis=xa, yaxis=ya, cliponaxis=False, hoverinfo="skip"))
    lx, ly = lines[i]
    fig.add_trace(go.Scatter(x=lx, y=ly, mode="lines", line=dict(color="black", width=1.3 if i >= 4 else 1),
                             xaxis=xa, yaxis=ya, cliponaxis=False, hoverinfo="skip"))
    axcommon = dict(showline=True, linecolor="black", linewidth=1, ticks="outside", ticklen=3,
                    tickwidth=1, tickcolor="black", showgrid=False, zeroline=False,
                    tickfont=dict(size=6.5, family=FONT, color="black"))
    layout["xaxis" + n] = dict(axcommon, domain=[l / W, r / W], range=xr, dtick=xd, tick0=0,
                               anchor=ya, tickformat=xf if xf else "")
    layout["yaxis" + n] = dict(axcommon, domain=[1 - b / H, 1 - t / H], range=yr, dtick=yd, tick0=0,
                               anchor=xa, tickformat=yf if yf else "")
    tx, ty = title_pos[i]
    annotations.append(dict(text=titles[i], x=tx / W, y=1 - ty / H, xref="paper", yref="paper",
                            showarrow=False, xanchor="center", yanchor="middle",
                            font=dict(size=12, family=FONT, color="black")))
    tx, ty = xtitle_pos[i]
    annotations.append(dict(text=x_titles[i], x=tx / W, y=1 - ty / H, xref="paper", yref="paper",
                            showarrow=False, xanchor="center", yanchor="middle",
                            font=dict(size=11, family=FONT, color="black")))
    tx, ty = ytitle_pos[i]
    annotations.append(dict(text=y_titles[i], x=tx / W, y=1 - ty / H, xref="paper", yref="paper",
                            showarrow=False, xanchor="center", yanchor="middle", textangle=-90,
                            font=dict(size=11, family=FONT, color="black")))

layout["annotations"] = annotations
fig.update_layout(**layout)
fig.write_html("out.html")
